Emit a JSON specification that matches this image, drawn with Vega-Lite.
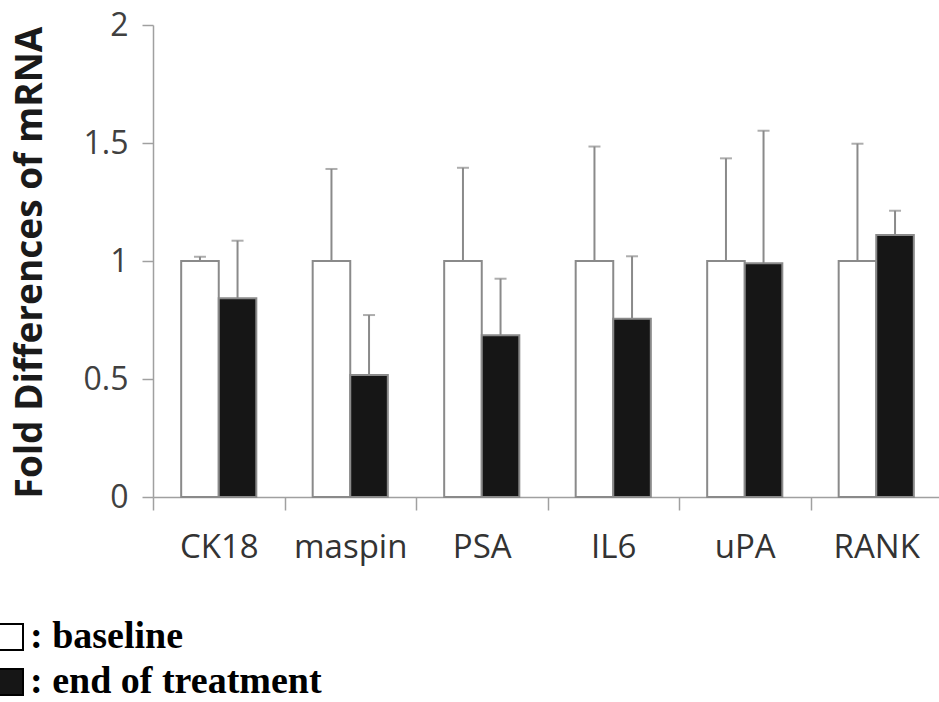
{
  "$schema": "https://vega.github.io/schema/vega-lite/v6.json",
  "width": 789,
  "height": 472,
  "autosize": "none",
  "padding": {"left": 153, "top": 25, "right": 0, "bottom": 205},
  "background": "white",
  "config": {"view": {"stroke": null}},
  "data": {
    "values": [
      {"gene": "CK18", "group": "baseline", "value": 1.0, "upper": 1.018},
      {"gene": "CK18", "group": "end of treatment", "value": 0.842, "upper": 1.086},
      {"gene": "maspin", "group": "baseline", "value": 1.0, "upper": 1.39},
      {"gene": "maspin", "group": "end of treatment", "value": 0.517, "upper": 0.771},
      {"gene": "PSA", "group": "baseline", "value": 1.0, "upper": 1.395},
      {"gene": "PSA", "group": "end of treatment", "value": 0.685, "upper": 0.925},
      {"gene": "IL6", "group": "baseline", "value": 1.0, "upper": 1.485},
      {"gene": "IL6", "group": "end of treatment", "value": 0.755, "upper": 1.02},
      {"gene": "uPA", "group": "baseline", "value": 1.0, "upper": 1.435},
      {"gene": "uPA", "group": "end of treatment", "value": 0.99, "upper": 1.552},
      {"gene": "RANK", "group": "baseline", "value": 1.0, "upper": 1.497},
      {"gene": "RANK", "group": "end of treatment", "value": 1.11, "upper": 1.213}
    ]
  },
  "encoding": {
    "x": {
      "field": "gene",
      "type": "nominal",
      "sort": ["CK18", "maspin", "PSA", "IL6", "uPA", "RANK"],
      "scale": {"paddingInner": 0, "paddingOuter": 0},
      "axis": {
        "title": null,
        "tickBand": "extent",
        "labelAngle": 0,
        "tickSize": 13,
        "tickColor": "#a0a0a0",
        "tickWidth": 1.5,
        "domainColor": "#a0a0a0",
        "domainWidth": 1.5,
        "labelFont": "Open Sans",
        "labelFontSize": 33,
        "labelColor": "#333333",
        "labelPadding": 21
      }
    },
    "xOffset": {
      "field": "group",
      "type": "nominal",
      "sort": ["baseline", "end of treatment"],
      "scale": {"paddingInner": 0, "paddingOuter": 0.75}
    }
  },
  "layer": [
    {
      "mark": {"type": "rule", "color": "#8a8a8a", "strokeWidth": 2},
      "encoding": {
        "y": {"field": "value", "type": "quantitative"},
        "y2": {"field": "upper"}
      }
    },
    {
      "mark": {"type": "tick", "color": "#8a8a8a", "thickness": 2, "size": 12},
      "encoding": {
        "y": {"field": "upper", "type": "quantitative"}
      }
    },
    {
      "mark": {"type": "bar", "stroke": "#8a8a8a", "strokeWidth": 2},
      "encoding": {
        "y": {
          "field": "value",
          "type": "quantitative",
          "scale": {"domain": [0, 2]},
          "axis": {
            "values": [0, 0.5, 1, 1.5, 2],
            "format": "~g",
            "grid": false,
            "tickSize": 11,
            "tickColor": "#a0a0a0",
            "tickWidth": 1.5,
            "domainColor": "#a0a0a0",
            "domainWidth": 1.5,
            "labelPadding": 14,
            "labelFont": "Open Sans",
            "labelFontSize": 32,
            "labelColor": "#404040",
            "title": "Fold Differences of mRNA",
            "titleFont": "Open Sans",
            "titleFontWeight": "bold",
            "titleFontSize": 37,
            "titleColor": "#1a1a1a",
            "titleAngle": -90,
            "titleAlign": "center",
            "titleBaseline": "middle",
            "titleX": -123,
            "titleY": 237
          }
        },
        "fill": {
          "field": "group",
          "type": "nominal",
          "scale": {"domain": ["baseline", "end of treatment"], "range": ["#ffffff", "#161616"]},
          "legend": {
            "orient": "none",
            "legendX": -162,
            "legendY": 593,
            "title": null,
            "padding": 0,
            "symbolType": "square",
            "symbolSize": 676,
            "symbolStrokeColor": "#000000",
            "symbolStrokeWidth": 2,
            "labelFont": "Liberation Serif",
            "labelFontWeight": "bold",
            "labelFontSize": 38,
            "labelColor": "#000000",
            "labelExpr": "': ' + datum.label",
            "labelLimit": 0,
            "labelOffset": 1,
            "rowPadding": 7
          }
        }
      }
    }
  ]
}
